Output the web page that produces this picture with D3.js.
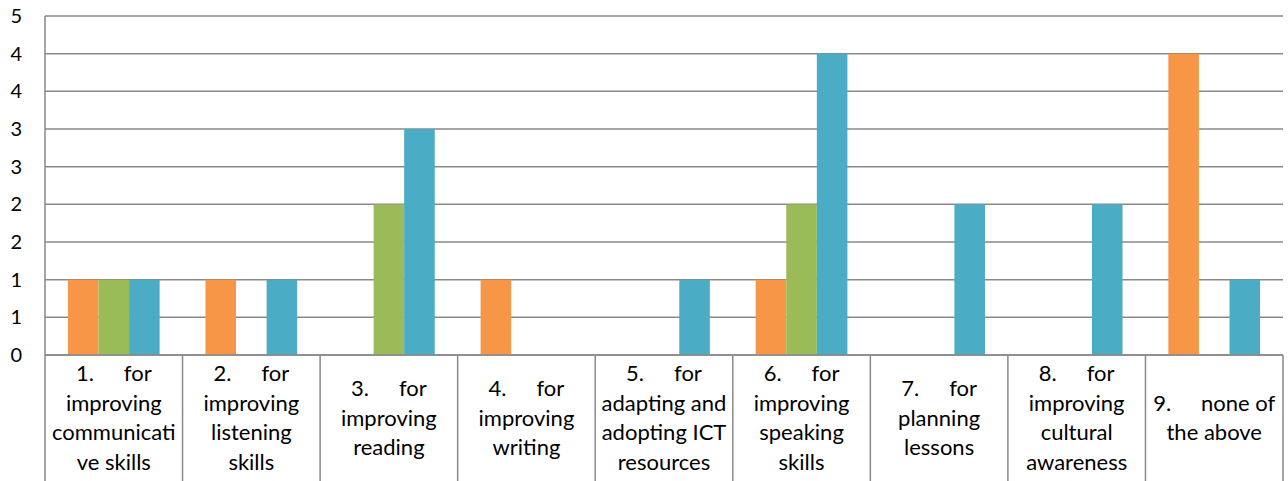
<!DOCTYPE html>
<html>
<head>
<meta charset="utf-8">
<script src="https://d3js.org/d3.v7.min.js"></script>
<style>
  body { margin: 0; background: white; }
  svg { font-family: 'Lato', 'Liberation Sans', sans-serif; }
  .grid line { stroke: #898989; stroke-width: 1.5px; }
  .sep { stroke: #898989; stroke-width: 1.5px; }
  .ylab { font-size: 20px; fill: #000; }
  .clab { font-size: 22px; fill: #000; }
</style>
</head>
<body>
<svg width="1288" height="481"></svg>
<script>
// categories, each as the wrapped lines shown under the axis
var categories = ["c1", "c2", "c3", "c4", "c5", "c6", "c7", "c8", "c9"];
var categoryLines = [
  [["1.", "for"], "improving", "communicati", "ve skills"],
  [["2.", "for"], "improving", "listening", "skills"],
  [["3.", "for"], "improving", "reading"],
  [["4.", "for"], "improving", "writing"],
  [["5.", "for"], "adapting and", "adopting ICT", "resources"],
  [["6.", "for"], "improving", "speaking", "skills"],
  [["7.", "for"], "planning", "lessons"],
  [["8.", "for"], "improving", "cultural", "awareness"],
  [["9.", "none of"], "the above"]
];

var seriesNames = ["Series 1", "Series 2", "Series 3"];
var seriesColors = ["#F79646", "#9BBB59", "#4BACC6"];
var series1 = [1, 1, 0, 1, 0, 1, 0, 0, 4];
var series2 = [1, 0, 2, 0, 0, 2, 0, 0, 0];
var series3 = [1, 1, 3, 0, 1, 4, 2, 2, 1];

var tickValues = [0, 0.5, 1, 1.5, 2, 2.5, 3, 3.5, 4, 4.5];
var tickLabels = ["0", "1", "1", "2", "2", "3", "3", "4", "4", "5"];

function draw() {
  var svg = d3.select("svg");
  var left = 45, right = 1283, plotTop = 16, base = 355, bottom = 481;

  var y = d3.scaleLinear().domain([0, 4.5]).range([base, plotTop]);
  var x0 = d3.scaleBand().domain(categories).range([left, right]).padding(0);
  var bw = x0.bandwidth();
  var b = bw / 4.5; // gap width 150%
  var x1 = d3.scaleBand().domain(seriesNames).range([0.75 * b, 3.75 * b]).padding(0);

  // gridlines
  svg.append("g").attr("class", "grid")
    .selectAll("line").data(tickValues).enter().append("line")
    .attr("x1", left).attr("x2", right)
    .attr("y1", function (d) { return y(d); })
    .attr("y2", function (d) { return y(d); });

  // y labels
  svg.append("g").selectAll("text").data(tickValues).enter().append("text")
    .attr("class", "ylab")
    .attr("x", 22)
    .attr("y", function (d) { return y(d); })
    .attr("dy", "0.35em")
    .attr("text-anchor", "end")
    .text(function (d, i) { return tickLabels[i]; });

  // bars
  var allSeries = [series1, series2, series3];
  var rows = [];
  categories.forEach(function (c, i) {
    seriesNames.forEach(function (s, j) {
      rows.push({ cat: c, s: s, v: allSeries[j][i], color: seriesColors[j] });
    });
  });
  svg.append("g").selectAll("rect").data(rows.filter(function (d) { return d.v > 0; }))
    .enter().append("rect")
    .attr("x", function (d) { return x0(d.cat) + x1(d.s); })
    .attr("width", x1.bandwidth())
    .attr("y", function (d) { return y(d.v); })
    .attr("height", function (d) { return base - y(d.v); })
    .attr("fill", function (d) { return d.color; });

  // axis lines and category separators
  svg.append("line").attr("class", "sep")
    .attr("x1", left).attr("x2", left).attr("y1", plotTop).attr("y2", bottom);
  svg.append("line").attr("class", "sep")
    .attr("x1", left).attr("x2", right).attr("y1", base).attr("y2", base);
  var bounds = categories.map(function (c) { return x0(c) + bw; });
  svg.append("g").selectAll("line").data(bounds).enter().append("line")
    .attr("class", "sep")
    .attr("x1", function (d) { return d; }).attr("x2", function (d) { return d; })
    .attr("y1", base).attr("y2", bottom);

  // category labels
  var lineH = 29.5, midY = 418;
  categories.forEach(function (c, i) {
    var lines = categoryLines[i];
    var cx = x0(c) + bw / 2;
    var y0 = midY - (lines.length - 1) * lineH / 2;
    lines.forEach(function (ln, k) {
      var t = svg.append("text").attr("class", "clab")
        .attr("x", cx).attr("y", y0 + k * lineH)
        .attr("dy", "0.35em").attr("text-anchor", "middle");
      if (Array.isArray(ln)) {
        t.append("tspan").text(ln[0]);
        t.append("tspan").attr("dx", 30).text(ln[1]);
      } else {
        t.text(ln);
      }
    });
  });
}
draw();
</script>
</body>
</html>
